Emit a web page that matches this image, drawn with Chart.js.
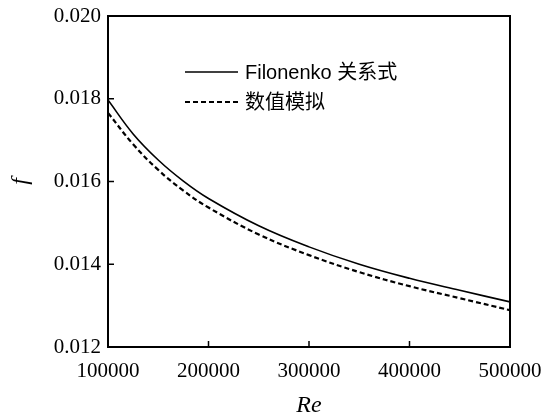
<!DOCTYPE html>
<html>
<head>
<meta charset="utf-8">
<script src="https://cdn.jsdelivr.net/npm/chart.js@4.4.1/dist/chart.umd.min.js"></script>
<style>
  html, body { margin: 0; padding: 0; background: #fff; }
  #wrap { width: 546px; height: 414px; }
</style>
</head>
<body>
<div id="wrap"><canvas id="grafico"></canvas></div>
<script>
// Dados
const reynolds = [100000, 125000, 150000, 175000, 200000, 250000, 300000, 350000, 400000, 450000, 500000];
const fFilonenko = [0.01797, 0.01715, 0.01652, 0.01601, 0.01559, 0.01493, 0.01442, 0.01400, 0.01366, 0.01337, 0.01309];
const fNumerico = [0.01766, 0.01690, 0.01628, 0.01578, 0.01537, 0.01472, 0.01422, 0.01381, 0.01347, 0.01318, 0.01289];
const ticksX = [100000, 200000, 300000, 400000, 500000];
const ticksY = [0.012, 0.014, 0.016, 0.018, 0.020];
const rotulos = ["Filonenko 关系式", "数值模拟"];

const serif = "'Liberation Serif', 'Times New Roman', serif";

// Moldura, marcas internas e legenda
const molduraPlugin = {
  id: "moldura",
  afterDraw(chart) {
    const { ctx, chartArea: a, scales } = chart;
    ctx.save();
    ctx.strokeStyle = "#000";
    ctx.lineWidth = 2;
    ctx.strokeRect(a.left, a.top, a.right - a.left, a.bottom - a.top);

    ctx.lineWidth = 1.5;
    ticksX.forEach(v => {
      const x = scales.x.getPixelForValue(v);
      ctx.beginPath();
      ctx.moveTo(x, a.bottom);
      ctx.lineTo(x, a.bottom - 6);
      ctx.stroke();
    });
    ticksY.forEach(v => {
      const y = scales.y.getPixelForValue(v);
      ctx.beginPath();
      ctx.moveTo(a.left, y);
      ctx.lineTo(a.left + 6, y);
      ctx.stroke();
    });

    // legenda
    const x0 = 185, x1 = 238, y0 = 72, dy = 30;
    ctx.font = "20px 'Liberation Sans', 'Noto Sans CJK SC', sans-serif";
    ctx.textBaseline = "middle";
    ctx.fillStyle = "#000";
    chart.data.datasets.forEach((ds, i) => {
      const y = y0 + i * dy;
      ctx.lineWidth = ds.borderWidth;
      ctx.setLineDash(ds.borderDash || []);
      ctx.beginPath();
      ctx.moveTo(x0, y);
      ctx.lineTo(x1, y);
      ctx.stroke();
      ctx.setLineDash([]);
      ctx.fillText(ds.label, x1 + 7, y + 1);
    });
    ctx.restore();
  }
};

function desenharGrafico() {
  const ctx = document.getElementById("grafico").getContext("2d");
  new Chart(ctx, {
    type: "line",
    data: {
      datasets: [
        {
          label: rotulos[0],
          data: reynolds.map((r, i) => ({ x: r, y: fFilonenko[i] })),
          borderColor: "#000",
          borderWidth: 1.6,
          pointRadius: 0,
          tension: 0.4,
          fill: false
        },
        {
          label: rotulos[1],
          data: reynolds.map((r, i) => ({ x: r, y: fNumerico[i] })),
          borderColor: "#000",
          borderWidth: 2.2,
          borderDash: [5, 3],
          pointRadius: 0,
          tension: 0.4,
          fill: false
        }
      ]
    },
    options: {
      responsive: true,
      maintainAspectRatio: false,
      animation: false,
      layout: { padding: { top: 16, right: 36, left: 0, bottom: 0 } },
      plugins: {
        legend: { display: false },
        tooltip: { enabled: false }
      },
      scales: {
        x: {
          type: "linear",
          min: 100000,
          max: 500000,
          afterBuildTicks: s => { s.ticks = ticksX.map(v => ({ value: v })); },
          afterFit: s => { s.height = 67; s.paddingLeft = 0; s.paddingRight = 0; },
          grid: { display: false, drawTicks: false },
          border: { display: false },
          ticks: {
            color: "#000",
            padding: 12,
            maxRotation: 0,
            font: { family: serif, size: 21 },
            callback: v => String(v)
          },
          title: {
            display: true,
            text: "Re",
            color: "#000",
            padding: { top: 11, bottom: -6 },
            font: { family: serif, size: 24, style: "italic" }
          }
        },
        y: {
          type: "linear",
          min: 0.012,
          max: 0.020,
          afterBuildTicks: s => { s.ticks = ticksY.map(v => ({ value: v })); },
          afterFit: s => { s.width = 108; s.paddingTop = 0; s.paddingBottom = 0; },
          grid: { display: false, drawTicks: false },
          border: { display: false },
          ticks: {
            color: "#000",
            padding: 7,
            font: { family: serif, size: 21 },
            callback: v => v.toFixed(3)
          },
          title: {
            display: true,
            text: "f",
            color: "#000",
            padding: { top: 6, bottom: 0 },
            font: { family: serif, size: 24, style: "italic" }
          }
        }
      }
    },
    plugins: [molduraPlugin]
  });
}

document.addEventListener("DOMContentLoaded", desenharGrafico);
</script>
</body>
</html>
